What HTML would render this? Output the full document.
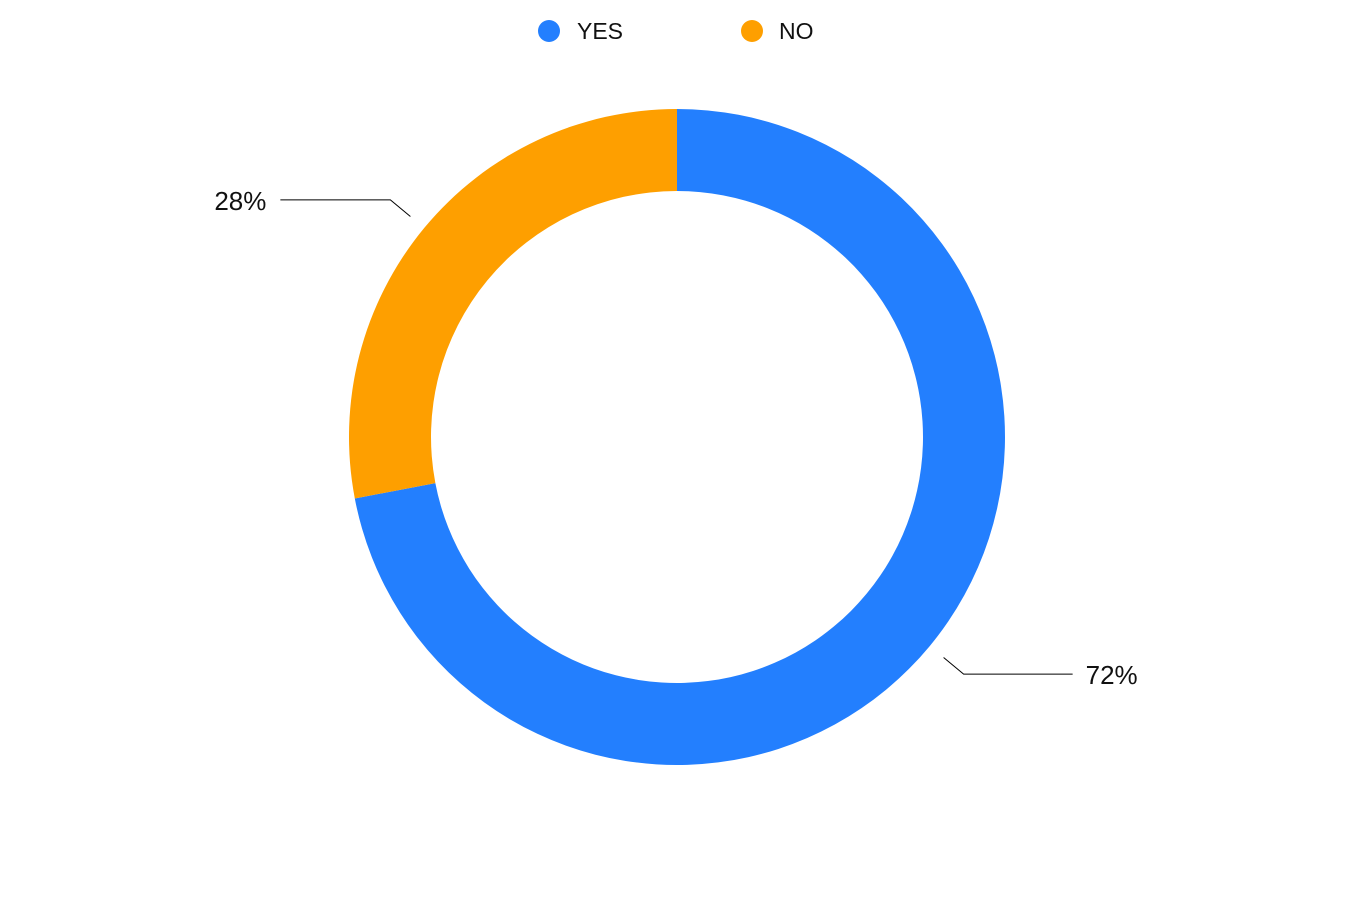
<!DOCTYPE html>
<html><head><meta charset="utf-8">
<style>
html,body{margin:0;padding:0;background:#fff;}
svg{display:block;font-family:"Liberation Sans",Arial,sans-serif;}
</style></head>
<body>
<svg id="chart" width="1372" height="922" viewBox="0 0 1372 922">
  <g>
    <g>
      <circle cx="549" cy="31" r="11" fill="#237ffe"/>
      <text x="577" y="39" font-size="23" fill="#111">YES</text>
    </g>
    <g>
      <circle cx="752" cy="31" r="11" fill="#fe9f00"/>
      <text x="779" y="39" font-size="23" fill="#111">NO</text>
    </g>
  </g>
  <g id="slices"></g>
  <g id="labels"></g>
</svg>
<script>
const categories = ["YES", "NO"];
const values = [72, 28];
const labels = ["72%", "28%"];
const colors = ["#237ffe", "#fe9f00"];
const cx = 677, cy = 437, R = 328, r = 246;
const NS = "http://www.w3.org/2000/svg";
const total = values.reduce((a,b)=>a+b,0);
function pt(a, rad){ return [cx + rad*Math.sin(a), cy - rad*Math.cos(a)]; }
let acc = 0;
const sg = document.getElementById('slices');
const lg = document.getElementById('labels');
values.forEach((v,i)=>{
  const a0 = acc/total*2*Math.PI; acc += v;
  const a1 = acc/total*2*Math.PI;
  const large = (a1-a0) > Math.PI ? 1 : 0;
  const [x0,y0]=pt(a0,R),[x1,y1]=pt(a1,R),[x2,y2]=pt(a1,r),[x3,y3]=pt(a0,r);
  const p = document.createElementNS(NS,'path');
  p.setAttribute('d',`M${x0},${y0} A${R},${R} 0 ${large} 1 ${x1},${y1} L${x2},${y2} A${r},${r} 0 ${large} 0 ${x3},${y3} Z`);
  p.setAttribute('fill',colors[i]);
  
  
  sg.appendChild(p);
  const am = (a0+a1)/2;
  const [lx0,ly0]=pt(am,R+18), [lx1,ly1]=pt(am,R+44);
  const right = Math.sin(am) >= 0;
  const lx2 = lx1 + (right ? 109 : -110);
  const line = document.createElementNS(NS,'polyline');
  line.setAttribute('points',`${lx0},${ly0} ${lx1},${ly1} ${lx2},${ly1}`);
  line.setAttribute('fill','none');
  line.setAttribute('stroke','#000');
  line.setAttribute('stroke-width','1');
  
  
  lg.appendChild(line);
  const t = document.createElementNS(NS,'text');
  t.setAttribute('x', right ? lx2+13 : lx2-14);
  t.setAttribute('y', ly1+10);
  t.setAttribute('font-size','26');
  t.setAttribute('fill','#111');
  t.setAttribute('text-anchor', right ? 'start' : 'end');
  t.textContent = labels[i];
  
  
  lg.appendChild(t);
});
</script>
</body></html>
